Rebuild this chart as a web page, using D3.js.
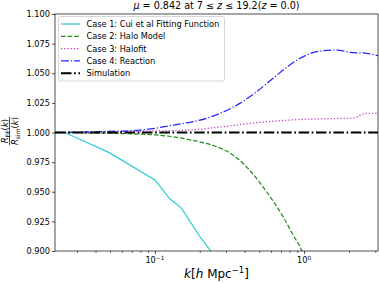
<!DOCTYPE html>
<html>
<head>
<meta charset="utf-8">
<script src="https://cdnjs.cloudflare.com/ajax/libs/d3/7.8.5/d3.min.js"></script>
<style>
  body { margin: 0; background: #fff; }
  svg { font-family: "DejaVu Sans", sans-serif; }
</style>
</head>
<body>
<svg id="chart" width="379" height="283"></svg>
<script>
// values
var kCase1 = [0.0214, 0.0249, 0.0494, 0.1, 0.126, 0.151, 0.203, 0.237, 0.26];
var rCase1 = [1.0, 1.0, 0.983, 0.960, 0.944, 0.936, 0.911, 0.900, 0.89];

var kCase2 = [0.0214, 0.043, 0.1, 0.2, 0.252, 0.334, 0.433, 0.56, 0.723, 0.844, 0.961, 1.0];
var rCase2 = [1.0, 0.9995, 0.998, 0.992, 0.9886, 0.981, 0.968, 0.950, 0.929, 0.9135, 0.9008, 0.895];

var kCase3 = [0.0214, 0.1, 0.1715, 0.287, 0.48, 0.802, 1.341, 2.128, 2.618, 3.13];
var rCase3 = [1.0, 1.0013, 1.0021, 1.0049, 1.0083, 1.0105, 1.0116, 1.0122, 1.0162, 1.0162];

var kCase4 = [0.0214, 0.0415, 0.0793, 0.133, 0.222, 0.371, 0.48, 0.62, 0.802, 1.038, 1.341, 1.649, 2.023, 2.618, 3.13];
var rCase4 = [1.0, 1.0007, 1.002, 1.0063, 1.012, 1.0246, 1.0344, 1.0457, 1.057, 1.0654, 1.069, 1.0696, 1.0677, 1.0668, 1.0648];

var kSim = [0.0214, 3.13];
var rSim = [1.0, 1.0];

var yTicks = [0.900, 0.925, 0.950, 0.975, 1.000, 1.025, 1.050, 1.075, 1.100];
var xMajor = [0.1, 1];
var xMinor = [0.03, 0.04, 0.05, 0.06, 0.07, 0.08, 0.09, 0.2, 0.3, 0.4, 0.5, 0.6, 0.7, 0.8, 0.9, 2, 3];

var labels = ["Case 1: Cui et al Fitting Function", "Case 2: Halo Model", "Case 3: Halofit", "Case 4: Reaction", "Simulation"];

var series = [
  {k: kCase1, r: rCase1, color: "#2fcdd0", width: 1.25, dash: null, curve: d3.curveLinear},
  {k: kCase2, r: rCase2, color: "#1f8f1f", width: 1.25, dash: "4.6,2", curve: d3.curveMonotoneX},
  {k: kCase3, r: rCase3, color: "#cc33cc", width: 1.25, dash: "1.25,2", curve: d3.curveMonotoneX},
  {k: kCase4, r: rCase4, color: "#2626ff", width: 1.25, dash: "7.9,2,1.25,2", curve: d3.curveMonotoneX},
  {k: kSim, r: rSim, color: "#000", width: 1.9, dash: "10.5,2.6,1.7,2.6", curve: d3.curveLinear}
];

var margin = {left: 55, right: 1, top: 14, bottom: 32};
var W = 379, H = 283;

var x = d3.scaleLog().domain([0.0214, 3.13]).range([margin.left, W - margin.right]);
var y = d3.scaleLinear().domain([0.9, 1.1]).range([H - margin.bottom, margin.top]);

var svg = d3.select("#chart");

svg.append("clipPath").attr("id", "plotclip")
  .append("rect")
  .attr("x", x.range()[0]).attr("y", y.range()[1])
  .attr("width", x.range()[1] - x.range()[0])
  .attr("height", y.range()[0] - y.range()[1]);

var plot = svg.append("g").attr("clip-path", "url(#plotclip)");

series.forEach(function (s) {
  var pts = s.k.map(function (k, i) { return [k, s.r[i]]; });
  var line = d3.line()
    .x(function (d) { return x(d[0]); })
    .y(function (d) { return y(d[1]); })
    .curve(s.curve);
  plot.append("path")
    .attr("d", line(pts))
    .attr("fill", "none")
    .attr("stroke", s.color)
    .attr("stroke-width", s.width)
    .attr("stroke-dasharray", s.dash);
});

// y axis
var yAxis = svg.append("g")
  .attr("transform", "translate(" + margin.left + ",0)")
  .call(d3.axisLeft(y).tickValues(yTicks).tickFormat(d3.format(".3f")).tickSize(3).tickPadding(2));

// x axis, log
var xAxis = svg.append("g")
  .attr("transform", "translate(0," + (H - margin.bottom) + ")")
  .call(d3.axisBottom(x).tickValues(xMajor).tickFormat("").tickSize(3));

svg.append("g")
  .attr("transform", "translate(0," + (H - margin.bottom) + ")")
  .call(d3.axisBottom(x).tickValues(xMinor).tickFormat("").tickSize(1.7))
  .select(".domain").remove();

[yAxis, xAxis].forEach(function (a) {
  a.select(".domain").remove();
  a.selectAll("text").attr("font-size", "8.2px").attr("fill", "#000")
    .attr("font-family", "DejaVu Sans");
});
svg.selectAll(".tick line").attr("stroke", "#000").attr("stroke-width", 0.7);

// x tick labels as 10^n
xMajor.forEach(function (v) {
  var t = svg.append("text")
    .attr("x", x(v)).attr("y", H - margin.bottom + 12)
    .attr("text-anchor", "middle")
    .attr("font-size", "8.2px");
  t.append("tspan").text("10");
  t.append("tspan").attr("dy", -3.5).attr("font-size", "5.8px")
    .text(Math.round(Math.log10(v)) === 0 ? "0" : "\u2212" + Math.abs(Math.round(Math.log10(v))));
});

// frame
svg.append("rect")
  .attr("x", x.range()[0]).attr("y", y.range()[1])
  .attr("width", x.range()[1] - x.range()[0])
  .attr("height", y.range()[0] - y.range()[1])
  .attr("fill", "none").attr("stroke", "#000").attr("stroke-width", 0.7);

// title
var title = svg.append("text")
  .attr("x", (x.range()[0] + x.range()[1]) / 2).attr("y", 9)
  .attr("text-anchor", "middle").attr("font-size", "9.6px");
title.append("tspan").attr("font-style", "italic").text("\u03bc");
title.append("tspan").text(" = 0.842 at 7 \u2264 ");
title.append("tspan").attr("font-style", "italic").text("z");
title.append("tspan").text(" \u2264 19.2(");
title.append("tspan").attr("font-style", "italic").text("z");
title.append("tspan").text(" = 0.0)");

// x label
var xl = svg.append("text")
  .attr("x", (x.range()[0] + x.range()[1]) / 2).attr("y", 278)
  .attr("text-anchor", "middle").attr("font-size", "12px");
xl.append("tspan").attr("font-style", "italic").text("k");
xl.append("tspan").text("[");
xl.append("tspan").attr("font-style", "italic").text("h");
xl.append("tspan").text(" Mpc");
xl.append("tspan").attr("dy", -5).attr("font-size", "8.5px").text("\u22121");
xl.append("tspan").attr("dy", 5).text("]");

// y label fraction
var yl = svg.append("g").attr("transform", "translate(9.5,131) rotate(-90)");
var num = yl.append("text").attr("x", 0).attr("y", -1.8).attr("text-anchor", "middle").attr("font-size", "8.5px");
num.append("tspan").attr("font-style", "italic").text("R");
num.append("tspan").attr("dy", 1.8).attr("font-size", "6px").text("FF");
num.append("tspan").attr("dy", -1.8).text("(");
num.append("tspan").attr("font-style", "italic").text("k");
num.append("tspan").text(")");
yl.append("line").attr("x1", -14).attr("x2", 14).attr("y1", 0).attr("y2", 0)
  .attr("stroke", "#000").attr("stroke-width", 0.7);
var den = yl.append("text").attr("x", 0).attr("y", 8.5).attr("text-anchor", "middle").attr("font-size", "8.5px");
den.append("tspan").attr("font-style", "italic").text("R");
den.append("tspan").attr("dy", 1.8).attr("font-size", "6px").text("sim");
den.append("tspan").attr("dy", -1.8).text("(");
den.append("tspan").attr("font-style", "italic").text("k");
den.append("tspan").text(")");

// legend
var lg = svg.append("g");
lg.append("rect")
  .attr("x", 58.5).attr("y", 16.5).attr("width", 166).attr("height", 64.5)
  .attr("rx", 2).attr("fill", "#fff").attr("fill-opacity", 0.8)
  .attr("stroke", "#ccc").attr("stroke-width", 0.8);
labels.forEach(function (name, i) {
  var s = series[i];
  var ly = 24 + i * 12.3;
  lg.append("line")
    .attr("x1", 61).attr("x2", 80).attr("y1", ly).attr("y2", ly)
    .attr("stroke", s.color).attr("stroke-width", s.width)
    .attr("stroke-dasharray", s.dash);
  lg.append("text")
    .attr("x", 86.5).attr("y", ly + 2.9)
    .attr("font-size", "8.2px").text(name);
});
</script>
</body>
</html>
